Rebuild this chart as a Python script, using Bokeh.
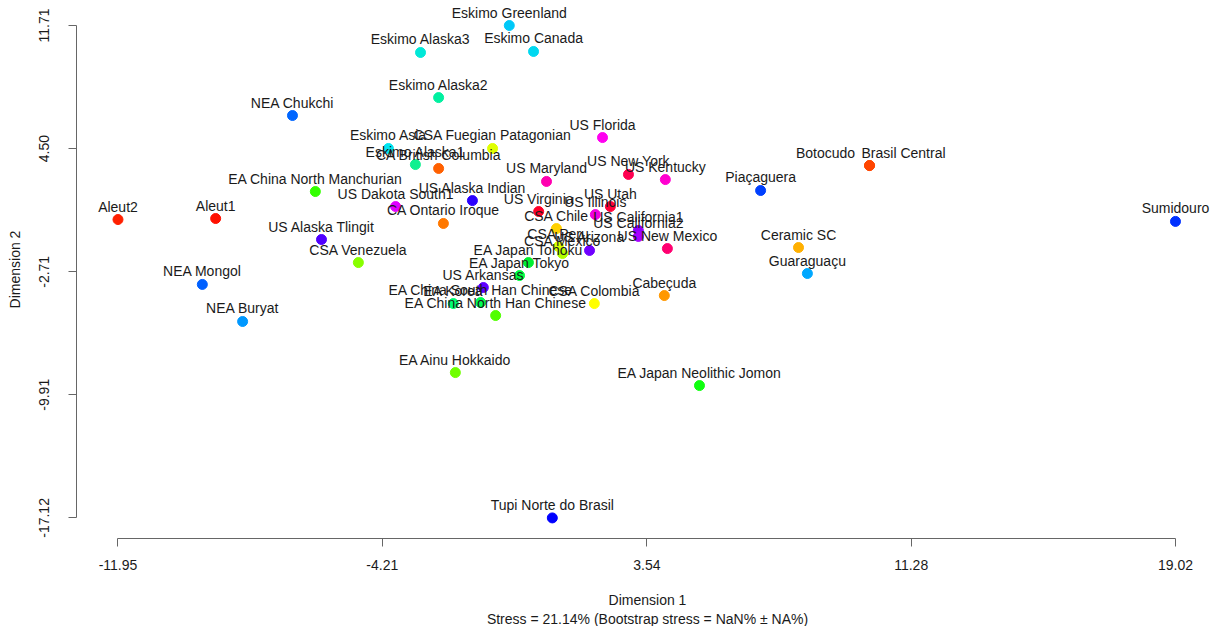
from bokeh.plotting import figure
from bokeh.models import ColumnDataSource, Range1d, FixedTicker, Title, PrintfTickFormatter
from bokeh.embed import file_html
from bokeh.resources import INLINE
from bokeh.core.properties import value

names = [
    "Eskimo Greenland", "Eskimo Alaska3", "Eskimo Canada", "Eskimo Alaska2", "NEA Chukchi",
    "Eskimo Asia", "CSA Fuegian Patagonian", "Eskimo Alaska1", "CA British Columbia",
    "EA China North Manchurian", "US Dakota South1", "US Alaska Indian", "CA Ontario Iroque",
    "US Maryland", "US Florida", "US New York", "US Kentucky", "US Utah", "US Illinois",
    "US Virginia", "CSA Chile", "US California1", "US California2", "US New Mexico",
    "CSA Peru", "CSA Mexico", "US Arizona", "EA Japan Tohoku", "EA Japan Tokyo",
    "US Arkansas", "EA China South Han Chinese", "EA Korea", "EA China North Han Chinese",
    "CSA Colombia", "Cabeçuda", "CSA Venezuela", "US Alaska Tlingit", "Aleut2", "Aleut1",
    "NEA Mongol", "NEA Buryat", "EA Ainu Hokkaido", "EA Japan Neolithic Jomon",
    "Tupi Norte do Brasil", "Piaçaguera", "Botocudo", "Brasil Central", "Ceramic SC",
    "Guaraguaçu", "Sumidouro",
]
dim1 = [
    -0.49, -3.09, 0.22, -2.56, -6.84,
    -4.03, -0.98, -3.24, -2.56,
    -6.17, -3.82, -1.57, -2.42,
    0.60, 2.24, 3.00, 4.08, 2.47, 2.03,
    0.37, 0.89, 3.29, 3.29, 4.14,
    0.95, 1.07, 1.86, 0.07, -0.19,
    -1.25, -1.33, -2.13, -0.89,
    2.00, 4.05, -4.91, -5.99, -11.95, -9.09,
    -9.48, -8.30, -2.07, 5.08,
    0.77, 6.87, 10.06, 10.06, 7.98,
    8.24, 19.02,
]
dim2 = [
    11.71, 10.13, 10.19, 7.49, 6.44,
    4.51, 4.51, 3.57, 3.34,
    1.99, 1.11, 1.46, 0.12,
    2.58, 5.15, 2.99, 2.69, 1.11, 0.64,
    0.82, -0.18, -0.29, -0.64, -1.35,
    -1.23, -1.64, -1.46, -2.17, -2.93,
    -3.63, -4.51, -4.57, -5.27,
    -4.57, -4.10, -2.17, -0.82, 0.35, 0.41,
    -3.45, -5.62, -8.61, -9.37,
    -17.12, 2.05, 3.51, 3.51, -1.29,
    -2.81, 0.24,
]
colors = [
    "#00C8F8", "#00E8D8", "#00D8F0", "#00F0A0", "#0066FF",
    "#00E5F0", "#E0FF00", "#10F090", "#FF6000",
    "#33FF00", "#E000FF", "#2A00FF", "#FF7800",
    "#FF00B0", "#FF00F0", "#FF0050", "#FF00D0", "#FF0038", "#F000E0",
    "#FF0028", "#FFD000", "#9000FF", "#A800FF", "#FF0070",
    "#D8FF00", "#B0FF00", "#7000FF", "#00F030", "#00FF40",
    "#6000FF", "#00FF50", "#00FF70", "#50FF00",
    "#FFFF00", "#FF9800", "#88FF00", "#5000FF", "#FF2000", "#FF1000",
    "#0060FF", "#0098FF", "#70FF00", "#10FF10",
    "#0000FF", "#0040FF", "#FF5000", "#FF4500", "#FFB000",
    "#00A8FF", "#0030FF",
]
# horizontal label shifts (pixels) for the two labels that share one point
label_dx = [0] * len(names)
label_dx[names.index("Botocudo")] = -44
label_dx[names.index("Brasil Central")] = 34

x_ticks = [-11.95, -4.21, 3.54, 11.28, 19.02]
y_ticks = [-17.12, -9.91, -2.71, 4.50, 11.71]

FONT = "Liberation Sans"
FS = "14px"

src = ColumnDataSource(dict(x=dim1, y=dim2, name=names, color=colors, dx=label_dx))

p = figure(width=1220, height=626,
           x_range=Range1d(-13.165, 20.280), y_range=Range1d(-18.325, 13.174),
           output_backend="svg", toolbar_location=None,
           min_border_left=76, min_border_right=2, min_border_top=0, min_border_bottom=88)
p.outline_line_color = None
p.xgrid.visible = False
p.ygrid.visible = False

p.scatter(x="x", y="y", source=src, size=10, fill_color="color", line_color="color")
p.text(x="x", y="y", text="name", source=src, x_offset="dx", y_offset=-13,
       text_align="center", text_baseline="middle",
       text_font=value(FONT), text_font_size=FS, text_color="#1a1a1a")

for ax, ticks in ((p.xaxis, x_ticks), (p.yaxis, y_ticks)):
    ax.ticker = FixedTicker(ticks=ticks)
    ax.formatter = PrintfTickFormatter(format="%.2f")
    ax.minor_tick_line_color = None
    ax.major_tick_in = 0
    ax.major_tick_out = 8
    ax.axis_line_color = "#666666"
    ax.major_tick_line_color = "#666666"
    ax.major_label_text_font = FONT
    ax.major_label_text_font_size = FS
    ax.major_label_text_color = "#1a1a1a"
    ax.axis_label_text_font = FONT
    ax.axis_label_text_font_size = FS
    ax.axis_label_text_font_style = "normal"
    ax.axis_label_text_color = "#1a1a1a"

p.xaxis.bounds = (x_ticks[0], x_ticks[-1])
p.yaxis.bounds = (y_ticks[0], y_ticks[-1])
p.xaxis.axis_label = "Dimension 1"
p.yaxis.axis_label = "Dimension 2"
p.xaxis.major_label_standoff = 13
p.xaxis.axis_label_standoff = 19
p.yaxis.major_label_standoff = 19
p.yaxis.major_label_orientation = "vertical"
p.yaxis.axis_label_standoff = 14

p.add_layout(Title(text="Stress = 21.14% (Bootstrap stress = NaN% \u00b1 NA%)", align="center",
                   text_font=FONT, text_font_size=FS, text_font_style="normal",
                   text_color="#1a1a1a", standoff=-3, offset=0), "below")

open("out.html", "w").write(file_html(p, INLINE))
